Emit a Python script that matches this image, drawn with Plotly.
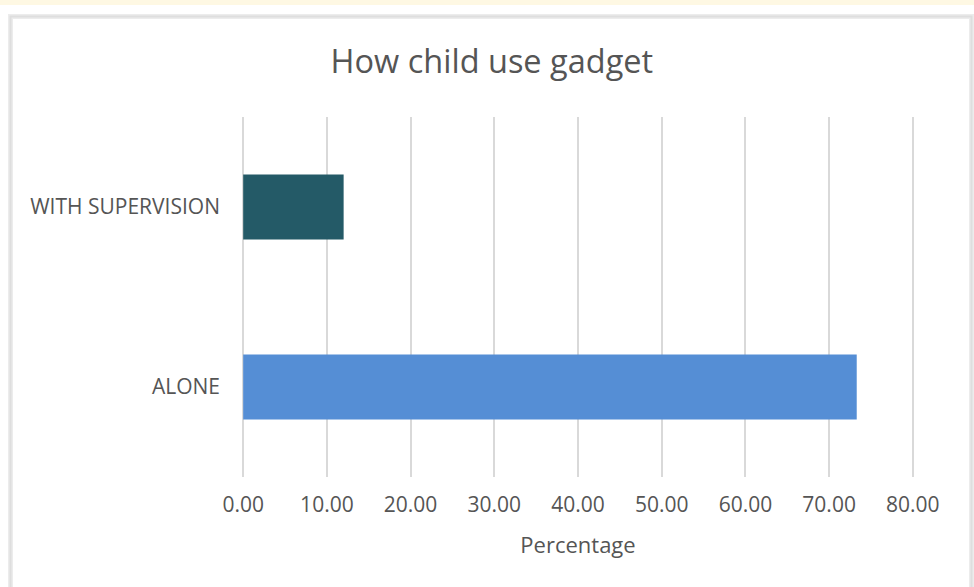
import plotly.graph_objects as go

# Survey result: how children use gadgets (percent of respondents)
categories = ["ALONE", "WITH SUPERVISION"]
percentages = [73.3, 12.0]
bar_colors = ["#558ed5", "#245a67"]
x_ticks = [0, 10, 20, 30, 40, 50, 60, 70, 80]

W, H = 974, 587
L, R, T, B = 239, 57, 117, 110
PW, PH = W - L - R, H - T - B


def px_x(x):
    return (x - L) / PW


def px_y(y):
    return (H - B - y) / PH


fig = go.Figure(
    go.Bar(
        x=percentages,
        y=categories,
        orientation="h",
        marker=dict(color=bar_colors, line=dict(width=0)),
        width=0.36,
    )
)

text_color = "#555555"
font_family = "Open Sans, Lato, sans-serif"

fig.update_layout(
    width=W,
    height=H,
    margin=dict(l=L, r=R, t=T, b=B),
    paper_bgcolor="white",
    plot_bgcolor="white",
    showlegend=False,
    font=dict(family=font_family, color=text_color, size=21),
    title=dict(
        text="How child use gadget",
        x=0.505,
        xanchor="center",
        xref="container",
        y=1 - 62 / H,
        yanchor="middle",
        yref="container",
        font=dict(size=32.5, color=text_color, family=font_family),
    ),
    xaxis=dict(
        range=[-0.5, 80.5],
        tickvals=x_ticks,
        tickformat=".2f",
        showgrid=True,
        gridcolor="#d9d9d9",
        gridwidth=2,
        zeroline=False,
        showline=False,
        ticks="",
        ticklabelstandoff=13,
        tickfont=dict(size=21, color=text_color),
        title=dict(text="Percentage", standoff=20, font=dict(size=22, color=text_color)),
        fixedrange=True,
    ),
    yaxis=dict(
        showgrid=False,
        zeroline=False,
        showline=False,
        ticks="",
        ticklabelstandoff=18,
        tickfont=dict(size=21, color=text_color),
        fixedrange=True,
    ),
    shapes=[
        # cream strip along the top edge
        dict(
            type="rect", xref="paper", yref="paper",
            x0=px_x(-5), x1=px_x(W + 5), y0=px_y(5), y1=px_y(-5),
            fillcolor="#fef8e3", line=dict(width=0), layer="below",
        ),
        # soft outer frame of the chart
        dict(
            type="rect", xref="paper", yref="paper",
            x0=px_x(10.5), x1=px_x(971.5), y0=px_y(620), y1=px_y(16.5),
            fillcolor="rgba(0,0,0,0)", line=dict(color="#ececec", width=5), layer="below",
        ),
        dict(
            type="rect", xref="paper", yref="paper",
            x0=px_x(10.5), x1=px_x(971.5), y0=px_y(620), y1=px_y(16.5),
            fillcolor="rgba(0,0,0,0)", line=dict(color="#dedede", width=2), layer="below",
        ),
    ],
)

fig.write_html("out.html")
